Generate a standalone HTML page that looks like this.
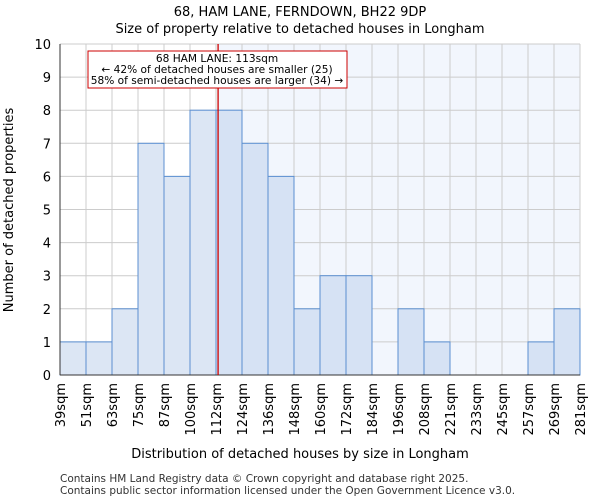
<!DOCTYPE html>
<html><head><meta charset="utf-8"><style>
body{margin:0;background:#fff;font-family:"DejaVu Sans","Liberation Sans",sans-serif}
</style></head><body>
<svg id="c" width="600" height="500" xmlns="http://www.w3.org/2000/svg" style="font-family:'DejaVu Sans','Liberation Sans',sans-serif">
<text x="300" y="16" text-anchor="middle" font-size="13">68, HAM LANE, FERNDOWN, BH22 9DP</text>
<text x="300" y="33" text-anchor="middle" font-size="13">Size of property relative to detached houses in Longham</text>
<g id="plot"></g>
<text x="300" y="458" text-anchor="middle" font-size="13">Distribution of detached houses by size in Longham</text>
<text transform="translate(13,210) rotate(-90)" text-anchor="middle" font-size="13">Number of detached properties</text>
<text x="60" y="482" font-size="10.5" fill="#333">Contains HM Land Registry data © Crown copyright and database right 2025.</text>
<text x="60" y="494" font-size="10.5" fill="#333">Contains public sector information licensed under the Open Government Licence v3.0.</text>
</svg>
<script>
const categories=["39sqm","51sqm","63sqm","75sqm","87sqm","100sqm","112sqm","124sqm","136sqm","148sqm","160sqm","172sqm","184sqm","196sqm","208sqm","221sqm","233sqm","245sqm","257sqm","269sqm","281sqm"];
const counts=[1,1,2,7,6,8,8,7,6,2,3,3,0,2,1,0,0,0,1,2];
const yTicks=[0,1,2,3,4,5,6,7,8,9,10];
const markerBin=6.08;
const X0=60,X1=580,Y0=375,Y1=44,YMAX=10;
const nb=counts.length,bw=(X1-X0)/nb;
const xs=i=>X0+i*bw, ys=v=>Y0-(v/YMAX)*(Y0-Y1);
const ns="http://www.w3.org/2000/svg",g=document.getElementById('plot');
function mk(t,a){const e=document.createElementNS(ns,t);for(const k in a)e.setAttribute(k,a[k]);g.appendChild(e);return e;}
const mx=xs(markerBin);
let e=mk('rect',{x:mx,y:Y1,width:X1-mx,height:Y0-Y1,fill:'#f2f6fd'});


yTicks.forEach(t=>{let l=mk('line',{x1:X0,x2:X1,y1:ys(t),y2:ys(t),stroke:'#ccc'});


let tx=mk('text',{x:X0-9,y:ys(t)+5,'text-anchor':'end','font-size':13});tx.textContent=t;

});
categories.forEach((c,i)=>{let l=mk('line',{x1:xs(i),x2:xs(i),y1:Y1,y2:Y0,stroke:'#ccc'});


let tx=mk('text',{transform:`translate(${xs(i)+5},${Y0+8}) rotate(-90)`,'text-anchor':'end','font-size':13});tx.textContent=c;

});
counts.forEach((v,i)=>{if(!v)return;let r=mk('rect',{x:xs(i),y:ys(v),width:bw,height:Y0-ys(v),fill:(i+0.5<markerBin)?'#dce6f4':'#d6e2f4',stroke:'#5b8fd1','stroke-width':1});

});
e=mk('line',{x1:X0,x2:X0,y1:Y1,y2:Y0,stroke:'#333'});


e=mk('line',{x1:X0,x2:X1,y1:Y0,y2:Y0,stroke:'#333'});


e=mk('line',{x1:mx,x2:mx,y1:Y1,y2:Y0,stroke:'#c00','stroke-width':1.3});


e=mk('rect',{x:88,y:51,width:259,height:37,fill:'#fff',stroke:'#c00'});


["68 HAM LANE: 113sqm","← 42% of detached houses are smaller (25)","58% of semi-detached houses are larger (34) →"].forEach((s,i)=>{let t=mk('text',{x:217,y:62+i*11,'text-anchor':'middle','font-size':10.6});t.textContent=s;

});
</script>
</body></html>
